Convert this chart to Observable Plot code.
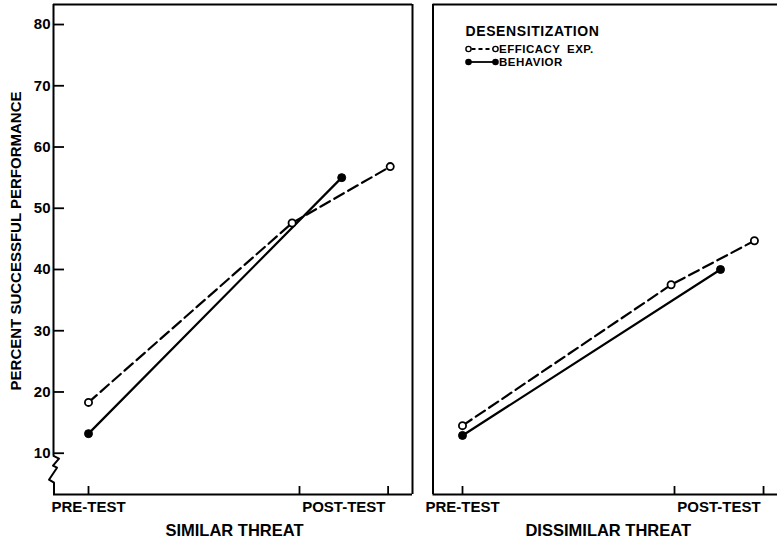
<!DOCTYPE html>
<html>
<head>
<meta charset="utf-8">
<script src="https://cdn.jsdelivr.net/npm/d3@7"></script>
<script src="https://cdn.jsdelivr.net/npm/@observablehq/plot@0.6"></script>
<style>
  html, body { margin: 0; padding: 0; background: #fff; }
  #wrap { position: relative; width: 777px; height: 541px; overflow: hidden; }
  #wrap > svg { position: absolute; top: 0; }
</style>
</head>
<body>
<div id="wrap"></div>
<script>
// ---------------- data ----------------
const panelTitles = ["SIMILAR THREAT", "DISSIMILAR THREAT"];
const phaseLabels = ["PRE-TEST", "POST-TEST"];
const phaseLabelX = [0, 1.21];           // label positions on the test-occasion axis
const occasionTicks = [0, 1, 1.42];      // tick marks on the occasion axis
const yTicks = [10, 20, 30, 40, 50, 60, 70, 80];

// Similar threat
const efficacySimilarX = [0, 0.965, 1.43];
const efficacySimilar = [18.3, 47.6, 56.8];
const behaviorSimilarX = [0, 1.20];
const behaviorSimilar = [13.2, 55.0];

// Dissimilar threat
const efficacyDissimilarX = [0, 0.984, 1.377];
const efficacyDissimilar = [14.5, 37.5, 44.7];
const behaviorDissimilarX = [0, 1.217];
const behaviorDissimilar = [12.9, 40.0];

const legendTitle = "DESENSITIZATION";
const seriesNames = ["EFFICACY EXP.", "BEHAVIOR"];
const yLabel = "PERCENT SUCCESSFUL PERFORMANCE";

// ---------------- layout ----------------
const FONT = "'Liberation Sans', Arial, Helvetica, sans-serif";
const H = 541, TOP = 4, BOTTOM_MARGIN = 47;
const Y_MIN = 3.26, Y_MAX = 83.27;
const pxPerY = (H - BOTTOM_MARGIN - TOP) / (Y_MAX - Y_MIN);
const SW = 2.2;

function rows(xs, ys) { return xs.map((x, i) => ({x, y: ys[i]})); }

function panel({title, effX, effY, behX, behY, width, marginLeft, marginRight, xDomain, leftAxis}) {
  const pxPerX = (width - marginLeft - marginRight) / (xDomain[1] - xDomain[0]);
  const eff = rows(effX, effY), beh = rows(behX, behY);
  const marks = [
    // top and bottom borders
    Plot.ruleY([Y_MAX], {stroke: "black", strokeWidth: 2}),
    Plot.ruleY([Y_MIN], {stroke: "black", strokeWidth: 2}),
    // occasion ticks (pointing up into the panel)
    Plot.ruleX(occasionTicks, {x: d => d, y1: Y_MIN, y2: Y_MIN + 8 / pxPerY, stroke: "black", strokeWidth: 1.8}),
    // lines
    Plot.line(eff, {x: "x", y: "y", stroke: "black", strokeWidth: SW, strokeDasharray: "11,5"}),
    Plot.line(beh, {x: "x", y: "y", stroke: "black", strokeWidth: SW}),
    Plot.dot(eff, {x: "x", y: "y", r: 3.6, fill: "white", stroke: "black", strokeWidth: 1.8}),
    Plot.dot(beh, {x: "x", y: "y", r: 4, fill: "black", stroke: "black", strokeWidth: 1}),
    // phase labels
    Plot.text(phaseLabels, {x: (d, i) => phaseLabelX[i], text: d => d, frameAnchor: "bottom", dy: 13,
      lineAnchor: "middle", textAnchor: "middle", fontSize: 15, fontWeight: "bold", fill: "black", ariaLabel: "phase-label"}),
    // panel title
    Plot.text([title], {text: d => d, frameAnchor: "bottom", dy: 36, dx: leftAxis ? 1.5 : 3,
      lineAnchor: "middle", textAnchor: "middle", fontSize: 16.5, fontWeight: "bold", fill: "black", ariaLabel: "panel-title"})
  ];
  if (leftAxis) {
    marks.push(
      Plot.ruleX([xDomain[1]], {stroke: "black", strokeWidth: 2}),
      Plot.ruleX([xDomain[0]], {y1: 10 - 3 / pxPerY, y2: Y_MAX, stroke: "black", strokeWidth: 2}),
      Plot.ruleY(yTicks, {y: d => d, x1: xDomain[0], x2: xDomain[0] + 11 / pxPerX, stroke: "black", strokeWidth: 1.8}),
      Plot.text([yLabel], {text: d => d, frameAnchor: "left", dx: -37, dy: -8.5, rotate: -90,
        textAnchor: "middle", lineAnchor: "middle",
        fontSize: 15, fontWeight: "bold", fill: "black", ariaLabel: "y-label"})
    );
  } else {
    marks.push(Plot.ruleX([xDomain[0]], {stroke: "black", strokeWidth: 2}));
  }
  return Plot.plot({
    width, height: H,
    marginTop: TOP, marginBottom: BOTTOM_MARGIN, marginLeft, marginRight,
    x: {domain: xDomain, axis: null},
    y: leftAxis
      ? {domain: [Y_MIN, Y_MAX], ticks: yTicks, tickSize: 0, tickPadding: 3, label: null, tickFormat: d => String(d)}
      : {domain: [Y_MIN, Y_MAX], axis: null},
    style: {fontFamily: FONT, fontSize: "15px", fontWeight: "bold", color: "black", background: "transparent", overflow: "visible"},
    marks
  });
}

const wrap = document.getElementById("wrap");

// left panel: frame from x=53 to x=412; pre-test at 88, post-test at 299
const leftDomain = [(53 - 88) / 211, (412 - 88) / 211];
const left = panel({
  title: panelTitles[0], effX: efficacySimilarX, effY: efficacySimilar,
  behX: behaviorSimilarX, behY: behaviorSimilar,
  width: 422, marginLeft: 53, marginRight: 10, xDomain: leftDomain, leftAxis: true
});
left.style.left = "0px";
wrap.appendChild(left);

// right panel: svg starts at 422; frame from 432.5 to 777; pre-test at 462, post-test at 674
const rightDomain = [(10.5 - 40) / 212, (355 - 40) / 212];
const right = panel({
  title: panelTitles[1], effX: efficacyDissimilarX, effY: efficacyDissimilar,
  behX: behaviorDissimilarX, behY: behaviorDissimilar,
  width: 355, marginLeft: 10.5, marginRight: 0, xDomain: rightDomain, leftAxis: false
});
right.style.left = "422px";
wrap.appendChild(right);

// letter spacing tweaks
d3.selectAll('g[aria-label="phase-label"] text').attr("letter-spacing", "1.2px");
d3.selectAll('g[aria-label="y-label"] text').attr("letter-spacing", "0.3px");
d3.selectAll('g[aria-label="panel-title"] text').attr("letter-spacing", "0.3px");

// axis break on the left panel's y axis
{
  const xs = left.scale("x"), ys = left.scale("y");
  const x0 = xs.apply(leftDomain[0]), y10 = ys.apply(10), yb = ys.apply(Y_MIN);
  const pts = [[x0, y10 + 3], [x0 + 6, y10 + 6], [x0, y10 + 13], [x0 + 4, y10 + 15],
               [x0 - 4, y10 + 27], [x0 + 1, y10 + 30], [x0 + 1, yb]];
  d3.select(left).append("path")
    .attr("d", d3.line()(pts))
    .attr("fill", "none").attr("stroke", "black").attr("stroke-width", 2)
    .attr("stroke-linejoin", "round");
}

// legend in the right panel
{
  const g = d3.select(right).append("g")
    .attr("font-family", FONT).attr("font-weight", "bold").attr("fill", "black")
    .attr("text-anchor", "start");
  const ox = -422; // page -> svg coordinates
  g.append("text").attr("x", 465.5 + ox).attr("y", 31).attr("dy", "0.36em")
    .attr("text-anchor", "start")
    .attr("font-size", 14).attr("letter-spacing", "0.6px").text(legendTitle);
  const rowsY = [49, 62];
  const sym = [{dash: "4,3", fill: "white"}, {dash: null, fill: "black"}];
  rowsY.forEach((yy, i) => {
    const l = g.append("line").attr("x1", 468.5 + ox).attr("x2", 495.5 + ox)
      .attr("y1", yy).attr("y2", yy).attr("stroke", "black").attr("stroke-width", 1.8);
    if (sym[i].dash) l.attr("stroke-dasharray", sym[i].dash).attr("stroke-dashoffset", -3);
    [468.5, 495.5].forEach(cx => g.append("circle").attr("cx", cx + ox).attr("cy", yy)
      .attr("r", 2.6).attr("fill", sym[i].fill).attr("stroke", "black").attr("stroke-width", 1.4));
    g.append("text").attr("x", 499 + ox).attr("y", yy).attr("dy", "0.36em")
      .attr("text-anchor", "start")
      .attr("font-size", 11.5).attr("letter-spacing", "0.5px").attr("word-spacing", "3px")
      .text(seriesNames[i]);
  });
}
</script>
</body>
</html>
